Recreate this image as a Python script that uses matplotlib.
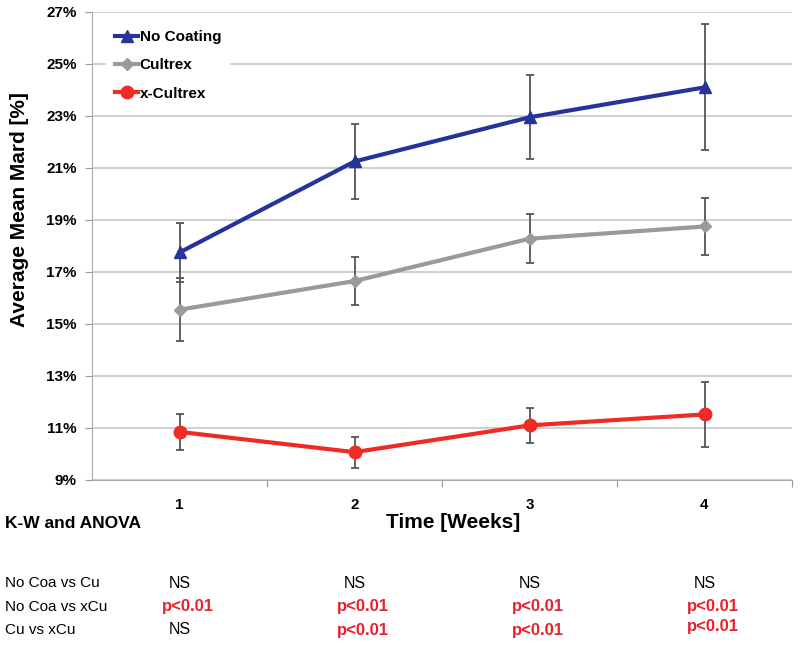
import numpy as np
import matplotlib
matplotlib.use('Agg')
import matplotlib.pyplot as plt
import matplotlib.transforms as mtransforms

# data
weeks = [1, 2, 3, 4]
no_coating = [17.75, 21.25, 22.95, 24.1]
no_coating_err = [1.13, 1.45, 1.62, 2.42]
cultrex = [15.55, 16.65, 18.28, 18.75]
cultrex_err = [1.2, 0.93, 0.95, 1.08]
x_cultrex = [10.85, 10.07, 11.1, 11.52]
x_cultrex_err = [0.7, 0.6, 0.68, 1.25]

row_labels = ['No Coa vs Cu', 'No Coa vs xCu', 'Cu vs xCu']
stats = [['NS', 'NS', 'NS', 'NS'],
         ['p<0.01', 'p<0.01', 'p<0.01', 'p<0.01'],
         ['NS', 'p<0.01', 'p<0.01', 'p<0.01']]

narrow = ['Liberation Sans Narrow', 'Liberation Sans', 'DejaVu Sans']
plt.rcParams['font.family'] = ['Liberation Sans', 'DejaVu Sans']

fig = plt.figure(figsize=(8, 6.48), dpi=100)
ax = fig.add_axes([0.115, 0.2593, 0.875, 0.7222])

blue = '#26349a'
grey = '#9a9a9a'
red = '#ee2b25'
ebc = '#555555'

for y, err, col, mk, ms, lab in [(no_coating, no_coating_err, blue, '^', 9, 'No Coating'),
                                  (cultrex, cultrex_err, grey, 'D', 6, 'Cultrex'),
                                  (x_cultrex, x_cultrex_err, red, 'o', 9, 'x-Cultrex')]:
    ax.errorbar(weeks, y, yerr=err, fmt='none', ecolor=ebc, elinewidth=1.3,
                capsize=3, capthick=1.3, zorder=3)
    ax.plot(weeks, y, color=col, marker=mk, markersize=ms, linewidth=3,
            label=lab, zorder=4)

ax.set_xlim(0.5, 4.5)
ax.set_ylim(9, 27)
ax.set_yticks(np.arange(9, 28, 2))
ax.set_yticklabels(['%d%%' % v for v in range(9, 28, 2)], fontweight='bold', fontsize=11)
ax.set_xticks([1.5, 2.5, 3.5, 4.5])
ax.set_xticklabels([])
ax.tick_params(axis='x', direction='out', length=5, color='#999999')
ax.tick_params(axis='y', direction='out', length=5, color='#999999', pad=6)
ax.grid(axis='y', color='#c8c8c8', linewidth=1.2)
ax.set_axisbelow(True)
for s in ['top', 'right']:
    ax.spines[s].set_visible(False)
ax.spines['left'].set_color('#aaaaaa')
ax.spines['bottom'].set_color('#aaaaaa')

# week labels below axis
trans = mtransforms.blended_transform_factory(ax.transData, fig.transFigure)
for w in weeks:
    ax.text(w, 1 - 505 / 648, str(w), transform=trans, ha='center', va='center',
            fontsize=11, fontweight='bold', family=narrow)

ax.set_ylabel('Average Mean Mard [%]', fontsize=15, fontweight='bold', labelpad=6)
ax.yaxis.set_label_coords(-0.09, 0.577)
fig.text(453 / 800, 1 - 523 / 648, 'Time [Weeks]', ha='center', va='center',
         fontsize=15, fontweight='bold', family=narrow)
fig.text(5 / 800, 1 - 523 / 648, 'K-W and ANOVA', ha='left', va='center',
         fontsize=12.5, fontweight='bold', family=narrow)

leg = ax.legend(loc='upper left', bbox_to_anchor=(0.009, 0.997), frameon=True,
                handlelength=1.5, handletextpad=0.1, labelspacing=0.93,
                borderpad=0.6, prop={'weight': 'bold', 'size': 11})
leg.get_frame().set_edgecolor('none')
leg.get_frame().set_facecolor('white')
leg.get_frame().set_alpha(1)

row_y = [583, 607, 630]
for i, lab in enumerate(row_labels):
    fig.text(5 / 800, 1 - row_y[i] / 648, lab, ha='left', va='center',
             fontsize=11, family=narrow)
    for j, w in enumerate(weeks):
        txt = stats[i][j]
        yy = row_y[i]
        if i == 2 and j == 3:
            yy = 626
        if txt == 'NS':
            ax.text(w, 1 - yy / 648, txt, transform=trans, ha='center', va='center',
                    fontsize=11.5, family=narrow)
        else:
            ax.text(w + 0.05, 1 - yy / 648, txt, transform=trans, ha='center', va='center',
                    fontsize=12, fontweight='bold', color='#e8202e', family=narrow)

fig.savefig('out.png', dpi=100)
